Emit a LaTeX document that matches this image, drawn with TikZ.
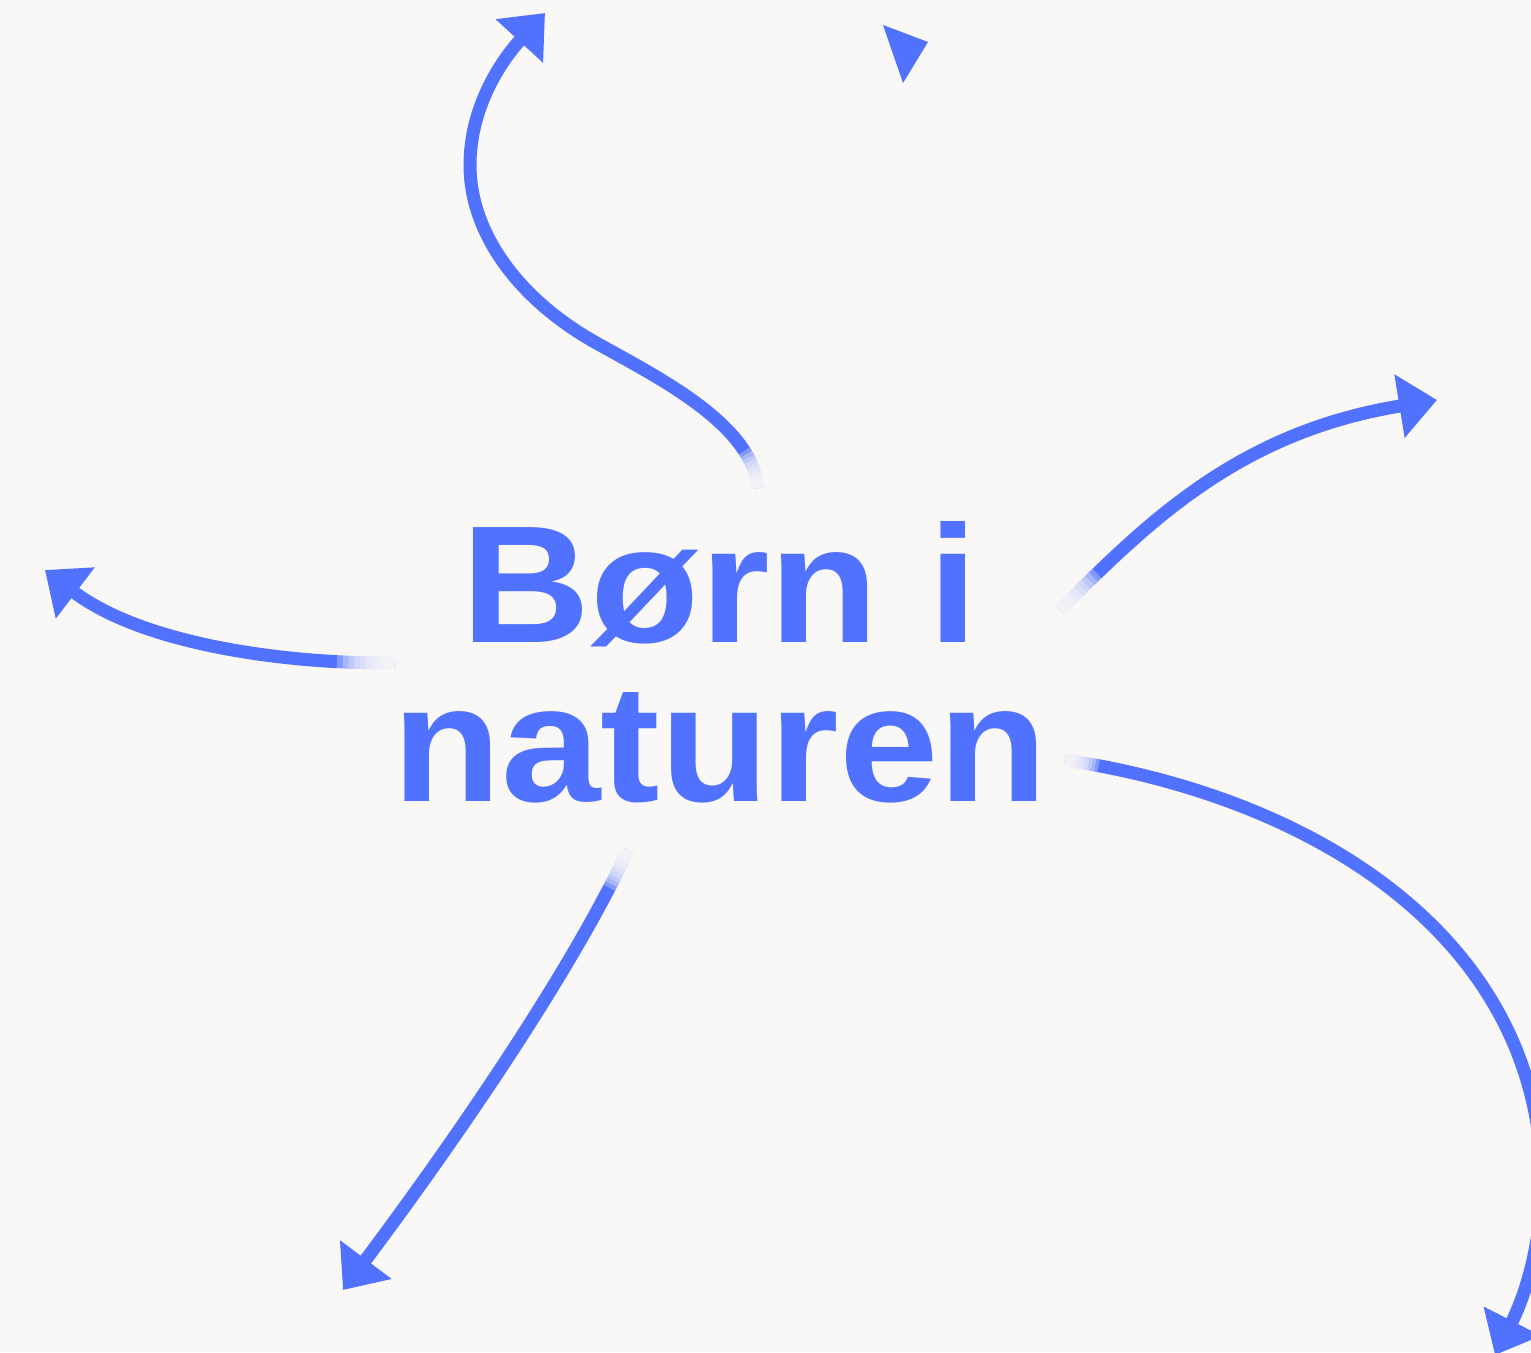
\documentclass[tikz,border=0pt]{standalone}
\usepackage{fontspec}
\setmainfont{Liberation Sans}[FakeStretch=1.07]
\usetikzlibrary{arrows.meta}
\definecolor{bgc}{RGB}{249,248,247}
\definecolor{blu}{RGB}{80,114,255}
\tikzset{
  conn/.style={draw=blu, line width=0.13cm, -{Triangle[length=0.38cm,width=0.62cm]}},
  cover/.style={draw=bgc, line width=0.17cm, draw opacity=0.3},
  title/.style={text=blu, font=\fontsize{47.5}{45.2}\selectfont\bfseries, align=center, inner sep=0pt}
}
% fade the first part of a path: nested cover strokes from the path start
\newcommand{\fadeover}[2]{%
  \foreach \k in {1,...,10}{%
    \pgfmathsetmacro\onlen{\k*#1}%
    \draw[cover, dash pattern=on \onlen cm off 100cm] #2;
  }}
\begin{document}
\begin{tikzpicture}[x=0.01cm,y=-0.01cm]
\fill[bgc] (0,0) rectangle (1531,1352);
\useasboundingbox (0,0) rectangle (1531,1352);
\clip (0,0) rectangle (1531,1352);

\node[title] (label) at (720,662) {Børn i\\naturen};

% top S-curve
\coordinate (tS) at (758,488);
\coordinate (tA1) at (752,425);
\coordinate (tA2) at (661,379);
\coordinate (tM1) at (600,345);
\coordinate (tB1) at (521,302);
\coordinate (tB2) at (470,235);
\coordinate (tM2) at (470,165);
\coordinate (tC1) at (470,108);
\coordinate (tC2) at (500,62);
\coordinate (tE) at (545,13);
\def\pathT{(tS) .. controls (tA1) and (tA2) .. (tM1) .. controls (tB1) and (tB2) .. (tM2) .. controls (tC1) and (tC2) .. (tE)}
\draw[conn] \pathT;
\fadeover{0.04}{\pathT}

% left
\coordinate (lS) at (395,663);
\coordinate (lA) at (280,664);
\coordinate (lB) at (141,643);
\coordinate (lE) at (45,570);
\def\pathL{(lS) .. controls (lA) and (lB) .. (lE)}
\draw[conn] \pathL;
\fadeover{0.058}{\pathL}

% right up
\coordinate (rS) at (1060,610);
\coordinate (rA) at (1150,520);
\coordinate (rB) at (1240,432);
\coordinate (rE) at (1437,400);
\def\pathR{(rS) .. controls (rA) and (rB) .. (rE)}
\draw[conn] \pathR;
\fadeover{0.052}{\pathR}

% bottom left
\coordinate (bS) at (628,850);
\coordinate (bA) at (565,985);
\coordinate (bB) at (433,1170);
\coordinate (bE) at (343,1290);
\def\pathB{(bS) .. controls (bA) and (bB) .. (bE)}
\draw[conn] \pathB;
\fadeover{0.042}{\pathB}

% big right
\coordinate (gS) at (1065,760);
\coordinate (gA) at (1312,797);
\coordinate (gB) at (1537,935);
\coordinate (gM) at (1542,1178);
\coordinate (gC) at (1542,1250);
\coordinate (gD) at (1522,1302);
\coordinate (gE) at (1495,1355);
\def\pathG{(gS) .. controls (gA) and (gB) .. (gM) .. controls (gC) and (gD) .. (gE)}
\draw[conn] \pathG;
\fadeover{0.034}{\pathG}

% lone arrowhead
\fill[blu] (883,25) -- (928,42) -- (903,83) -- cycle;
\end{tikzpicture}
\end{document}
